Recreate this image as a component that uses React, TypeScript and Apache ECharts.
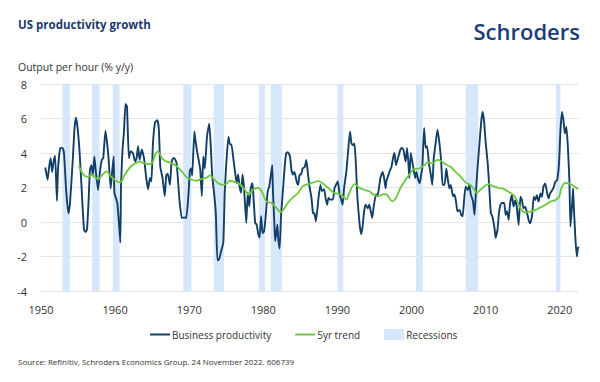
import React, { useEffect, useRef } from "react";
import * as echarts from "echarts";

const bizYears = [
  1950.58, 1950.89, 1951.1, 1951.3, 1951.5, 1951.7, 1951.9, 1952.15, 1952.3, 1952.6, 1952.9, 1953.1, 1953.4, 1953.7, 1953.9,
  1954.3, 1954.5, 1954.7, 1954.9, 1955.2, 1955.5, 1955.8, 1956.0, 1956.2, 1956.4, 1956.6, 1956.8, 1957.0, 1957.2, 1957.4,
  1957.7, 1958.0, 1958.2, 1958.4, 1958.7, 1958.9, 1959.1, 1959.4, 1959.6, 1959.8, 1959.9, 1960.1, 1960.3, 1960.5, 1960.7,
  1960.8, 1961.0, 1961.2, 1961.4, 1961.6, 1961.86, 1962.1, 1962.4, 1962.7, 1962.9, 1963.1, 1963.3, 1963.6, 1963.9, 1964.2,
  1964.45, 1964.7, 1964.9, 1965.1, 1965.4, 1965.7, 1965.9, 1966.1, 1966.4, 1966.7, 1966.9, 1967.1, 1967.4, 1967.6, 1967.8,
  1968.0, 1968.3, 1968.5, 1968.7, 1969.0, 1969.3, 1969.6, 1969.9, 1970.1, 1970.3, 1970.4, 1970.7, 1970.9, 1971.1, 1971.4,
  1971.5, 1971.7, 1971.9, 1972.1, 1972.4, 1972.7, 1972.9, 1973.1, 1973.4, 1973.6, 1973.8, 1974.0, 1974.3, 1974.6, 1974.8,
  1975.05, 1975.3, 1975.5, 1975.7, 1975.95, 1976.2, 1976.4, 1976.6, 1976.8, 1977.0, 1977.2, 1977.4, 1977.7, 1977.9, 1978.1,
  1978.3, 1978.5, 1978.6, 1978.9, 1979.1, 1979.3, 1979.5, 1979.7, 1979.9, 1980.1, 1980.3, 1980.6, 1980.8, 1981.0, 1981.2,
  1981.3, 1981.5, 1981.6, 1981.9, 1982.0, 1982.2, 1982.4, 1982.7, 1982.9, 1983.1, 1983.3, 1983.6, 1983.8, 1984.0, 1984.2,
  1984.5, 1984.7, 1984.9, 1985.1, 1985.3, 1985.6, 1985.8, 1986.0, 1986.2, 1986.5, 1986.7, 1986.9, 1987.1, 1987.45, 1987.7,
  1987.9, 1988.2, 1988.4, 1988.6, 1988.8, 1989.0, 1989.4, 1989.6, 1989.8, 1990.05, 1990.3, 1990.5, 1990.7, 1990.9, 1991.2,
  1991.4, 1991.7, 1991.9, 1992.1, 1992.3, 1992.5, 1992.7, 1993.0, 1993.2, 1993.4, 1993.6, 1993.8, 1994.1, 1994.3, 1994.5,
  1994.7, 1994.9, 1995.2, 1995.4, 1995.6, 1995.8, 1996.1, 1996.3, 1996.5, 1996.6, 1996.9, 1997.1, 1997.3, 1997.5, 1997.7,
  1997.9, 1998.1, 1998.3, 1998.5, 1998.7, 1998.9, 1999.2, 1999.4, 1999.6, 1999.7, 1999.9, 2000.1, 2000.3, 2000.5, 2000.65,
  2000.9, 2001.1, 2001.3, 2001.45, 2001.7, 2001.9, 2002.1, 2002.35, 2002.6, 2002.8, 2003.0, 2003.25, 2003.5, 2003.8, 2004.0,
  2004.2, 2004.45, 2004.7, 2004.9, 2005.1, 2005.3, 2005.6, 2005.8, 2006.0, 2006.2, 2006.5, 2006.7, 2006.9, 2007.1, 2007.3,
  2007.6, 2007.8, 2008.0, 2008.3, 2008.5, 2008.7, 2008.9, 2009.15, 2009.4, 2009.6, 2009.8, 2010.0, 2010.3, 2010.5, 2010.7,
  2010.9, 2011.2, 2011.35, 2011.6, 2011.8, 2012.0, 2012.2, 2012.5, 2012.7, 2012.9, 2013.1, 2013.3, 2013.55, 2013.77, 2014.0,
  2014.2, 2014.45, 2014.7, 2014.9, 2015.1, 2015.35, 2015.6, 2015.8, 2016.0, 2016.25, 2016.5, 2016.7, 2016.9, 2017.15, 2017.4,
  2017.6, 2017.8, 2018.05, 2018.3, 2018.5, 2018.7, 2019.0, 2019.2, 2019.4, 2019.65, 2019.9, 2020.1, 2020.3, 2020.5, 2020.7,
  2020.9, 2021.1, 2021.3, 2021.45, 2021.65, 2021.8, 2021.9, 2022.1, 2022.3, 2022.45, 2022.55,
];

const bizValues = [
  3.16, 2.45, 3.2, 3.7, 2.9, 3.5, 3.85, 1.23, 3.1, 4.3, 4.3, 4.0, 1.8, 0.5, 1.0,
  3.7, 5.3, 6.05, 5.6, 4.1, 1.8, -0.45, -0.58, -0.45, 1.0, 3.0, 3.3, 2.7, 3.8, 2.9,
  1.85, 3.1, 3.6, 3.7, 5.3, 4.65, 3.8, 1.95, 2.9, 3.8, 1.7, 1.4, 1.1, 0.05, -1.2,
  2.15, 4.2, 5.25, 6.85, 6.7, 3.7, 4.1, 4.0, 3.5, 3.7, 4.4, 3.6, 4.2, 3.7, 2.55,
  1.9, 2.55, 2.35, 4.5, 5.8, 5.9, 5.4, 3.2, 2.55, 1.5, 2.7, 2.8, 2.15, 3.4, 3.7,
  3.7, 3.4, 2.35, 1.2, 0.23, 0.27, 0.23, 1.6, 3.0, 3.1, 2.7, 5.25, 4.55, 4.0, 3.3,
  3.0, 1.5, 3.8, 3.1, 4.95, 5.7, 4.5, 2.7, 1.5, 0.42, -2.2, -2.2, -1.7, -1.2, 1.8,
  3.7, 4.95, 4.5, 4.5, 3.7, 2.85, 2.25, 2.75, 2.05, 1.7, 2.75, 1.95, -0.05, 1.7, 0.9,
  1.95, 2.25, 1.95, -0.05, -0.15, -0.65, -0.9, 0.33, -0.65, -0.55, 0.23, 1.8, 2.05, 2.65, 3.3,
  1.8, -0.15, -1.1, -0.15, -0.9, -1.55, 0.42, 2.15, 3.3, 4.0, 4.05, 3.8, 3.0, 2.75, 2.9,
  2.35, 2.15, 2.75, 2.75, 3.1, 3.2, 3.6, 2.9, 2.15, 1.4, 0.52, 0.5, 0.04, 1.4, 2.15,
  1.8, 1.9, 1.4, 1.0, 1.4, 1.3, 1.3, 1.95, 2.15, 2.35, 1.6, 1.3, 1.0, 1.95, 2.9,
  3.9, 5.25, 4.55, 4.45, 4.55, 3.3, 1.4, -0.15, -0.7, -0.25, 0.62, 1.0, 0.8, 1.0, 0.62,
  0.23, 0.9, 1.6, 1.5, 1.95, 2.55, 2.9, 2.55, 1.95, 2.35, 2.75, 3.0, 3.2, 3.7, 4.0,
  3.3, 3.6, 3.9, 4.2, 4.3, 4.2, 3.5, 4.3, 3.3, 2.55, 4.0, 3.5, 3.0, 2.55, 2.9,
  2.45, 2.25, 2.75, 3.1, 5.45, 4.3, 4.4, 3.4, 2.75, 2.15, 3.7, 4.55, 5.35, 4.45, 3.5,
  2.15, 2.15, 3.1, 2.45, 1.95, 2.15, 1.5, 1.6, 1.2, 0.62, 0.7, 0.42, 0.33, 1.3, 2.05,
  1.85, 2.15, 1.6, 1.2, 0.42, 1.8, 3.1, 4.45, 5.8, 6.4, 5.8, 4.65, 3.3, 1.95, 0.52,
  0.33, -0.35, -0.92, -0.45, 0.52, 1.0, 1.1, 1.1, 0.42, 0.62, 0.12, 1.08, 1.56, 0.89, 1.27,
  0.89, -0.17, 1.46, 1.27, 0.79, 0.89, 0.5, 0.12, -0.08, 0.31, 1.46, 1.27, 1.56, 1.18, 1.66,
  1.46, 2.04, 2.24, 1.66, 1.37, 1.66, 1.85, 2.04, 2.33, 2.43, 3.39, 5.32, 6.38, 5.9, 5.13,
  5.51, 4.35, 2.43, -0.27, 0.89, 1.95, 0.89, -0.85, -2.0, -1.52, -1.43,
];

const trendYears = [
  1955.1, 1955.7, 1956.3, 1956.9, 1957.3, 1957.8, 1958.2, 1958.9, 1959.4, 1960.1, 1960.7, 1961.3, 1961.8, 1962.1, 1962.75,
  1963.2, 1963.9, 1964.5, 1965.0, 1965.4, 1965.8, 1966.1, 1966.4, 1967.0, 1967.7, 1968.4, 1969.0, 1969.7, 1970.4, 1971.0,
  1971.7, 1972.4, 1972.8, 1973.3, 1973.9, 1974.5, 1975.0, 1975.5, 1976.2, 1976.8, 1977.5, 1978.0, 1978.6, 1979.3, 1979.75,
  1980.4, 1981.1, 1981.8, 1982.3, 1982.7, 1983.3, 1984.0, 1984.7, 1985.3, 1986.0, 1986.7, 1987.4, 1988.25, 1988.9, 1989.6,
  1990.3, 1990.7, 1991.2, 1991.6, 1992.3, 1993.0, 1993.6, 1994.3, 1994.9, 1995.6, 1996.3, 1996.7, 1997.4, 1997.9, 1998.5,
  1999.2, 1999.85, 2000.3, 2001.0, 2001.7, 2002.1, 2002.8, 2003.5, 2003.9, 2004.6, 2005.25, 2005.9, 2006.6, 2007.25, 2007.9,
  2008.5, 2008.8, 2009.3, 2009.95, 2010.4, 2011.1, 2011.8, 2012.5, 2013.1, 2013.77, 2014.2, 2014.7, 2015.35, 2016.0, 2016.7,
  2017.4, 2018.05, 2018.7, 2019.4, 2019.9, 2020.3, 2020.8, 2021.25, 2021.7, 2022.15, 2022.5,
];

const trendValues = [
  3.28, 2.75, 2.62, 2.74, 2.58, 2.5, 2.7, 2.93, 2.64, 2.39, 2.29, 2.74, 3.05, 3.2, 3.4,
  3.5, 3.4, 3.35, 3.4, 3.9, 4.1, 3.9, 3.65, 3.5, 3.4, 3.2, 2.93, 2.58, 2.45, 2.39,
  2.5, 2.58, 2.7, 2.5, 2.25, 2.16, 2.2, 2.39, 2.31, 2.2, 1.87, 1.58, 1.87, 1.97, 1.81,
  1.2, 1.1, 0.8, 0.58, 0.71, 1.1, 1.43, 1.68, 2.06, 2.2, 2.29, 2.37, 2.16, 1.91, 1.68,
  1.62, 1.5, 1.3, 1.68, 2.2, 1.97, 1.87, 1.78, 1.58, 1.5, 1.62, 1.58, 1.2, 1.39, 1.97,
  2.45, 2.83, 3.05, 3.1, 3.27, 3.45, 3.4, 3.6, 3.55, 3.35, 3.2, 2.93, 2.64, 2.31, 2.16,
  1.87, 1.68, 1.87, 2.12, 2.2, 2.06, 1.97, 1.91, 1.75, 1.56, 1.27, 0.79, 0.54, 0.6, 0.69,
  0.85, 0.98, 1.18, 1.27, 1.46, 2.04, 2.27, 2.24, 2.14, 2.0, 1.89,
];

const recessionStarts = [1952.9, 1956.9, 1959.7, 1969.2, 1973.3, 1979.4, 1981.0, 1990.0, 2000.6, 2007.3, 2019.5];
const recessionEnds = [1953.9, 1957.9, 1960.6, 1970.3, 1974.7, 1980.2, 1982.5, 1990.8, 2001.5, 2009.0, 2020.1];

const xTickYears = [1950, 1960, 1970, 1980, 1990, 2000, 2010, 2020];
const yTicks = { min: -4, max: 8, step: 2 };

const FONT = "'Open Sans', 'Noto Sans', sans-serif";
const NAVY = "#123f68";
const GREEN = "#6cc83c";
const RECESSION = "#d6e6fb";

export default function App() {
  const ref = useRef<HTMLDivElement>(null);

  useEffect(() => {
    if (!ref.current) return;
    const chart = echarts.init(ref.current, undefined, { renderer: "svg" });
    const bizData = bizYears.map((y, i) => [y, bizValues[i]]);
    const trendData = trendYears.map((y, i) => [y, trendValues[i]]);
    const areas = recessionStarts.map((s, i) => [{ xAxis: s }, { xAxis: recessionEnds[i] }]);

    chart.setOption({
      animation: false,
      textStyle: { fontFamily: FONT },
      grid: { left: 41, right: 21, top: 84, bottom: 91, containLabel: false },
      xAxis: {
        type: "value",
        min: 1950,
        max: 2022.6,
        axisLine: { show: false },
        axisTick: { show: false },
        splitLine: { show: false },
        axisLabel: {
          customValues: xTickYears,
          formatter: (v: number) => String(Math.round(v)),
          color: "#333",
          fontSize: 11,
          margin: 13,
          fontFamily: FONT,
        },
      },
      yAxis: {
        type: "value",
        min: yTicks.min,
        max: yTicks.max,
        interval: yTicks.step,
        axisLine: { show: false },
        axisTick: { show: false },
        splitLine: { lineStyle: { color: "#e4e4e4", width: 1 } },
        axisLabel: { color: "#333", fontSize: 11, margin: 14, fontFamily: FONT },
      },
      legend: {
        bottom: 37,
        left: 145,
        itemWidth: 20,
        itemHeight: 11,
        itemGap: 24,
        textStyle: { color: "#333", fontSize: 10, fontFamily: FONT, padding: [0, 0, 0, -3] },
        data: [
          { name: "Business productivity", icon: "path://M0,0H20V2H0Z" },
          { name: "5yr trend", icon: "path://M0,0H20V2H0Z" },
          { name: "Recessions", icon: "rect" },
        ],
      },
      series: [
        {
          name: "Recessions",
          type: "line",
          data: [],
          z: 1,
          itemStyle: { color: RECESSION },
          lineStyle: { color: RECESSION },
          markArea: {
            silent: true,
            itemStyle: { color: RECESSION, opacity: 1 },
            data: areas,
          },
        },
        {
          name: "Business productivity",
          type: "line",
          data: bizData,
          z: 3,
          showSymbol: false,
          symbol: "none",
          smooth: 0.15,
          itemStyle: { color: NAVY },
          lineStyle: { color: NAVY, width: 1.9 },
        },
        {
          name: "5yr trend",
          type: "line",
          data: trendData,
          z: 4,
          showSymbol: false,
          symbol: "none",
          smooth: 0.3,
          itemStyle: { color: GREEN },
          lineStyle: { color: GREEN, width: 1.8 },
        },
      ],
      graphic: [
        {
          type: "text",
          x: 18,
          y: 24,
          style: {
            text: "US productivity growth",
            fontSize: 11.5,
            fontWeight: "bold",
            fill: "#1b3a6b",
            fontFamily: FONT,
            verticalAlign: "middle",
          },
        },
        {
          type: "text",
          x: 580,
          y: 31,
          style: {
            text: "Schroders",
            fontSize: 22,
            fontWeight: 600,
            fill: "#1a3d78",
            fontFamily: FONT,
            align: "right",
            verticalAlign: "middle",
          },
        },
        {
          type: "text",
          x: 18,
          y: 67,
          style: {
            text: "Output per hour (% y/y)",
            fontSize: 10.5,
            fill: "#333",
            fontFamily: FONT,
            verticalAlign: "middle",
          },
        },
        {
          type: "text",
          x: 18,
          y: 361,
          style: {
            text: "Source: Refinitiv, Schroders Economics Group. 24 November 2022. 606739",
            fontSize: 8,
            fill: "#333",
            fontFamily: FONT,
            verticalAlign: "middle",
          },
        },
      ],
    });
    return () => chart.dispose();
  }, []);

  return <div ref={ref} style={{ width: 600, height: 382, margin: -8 }} />;
}
